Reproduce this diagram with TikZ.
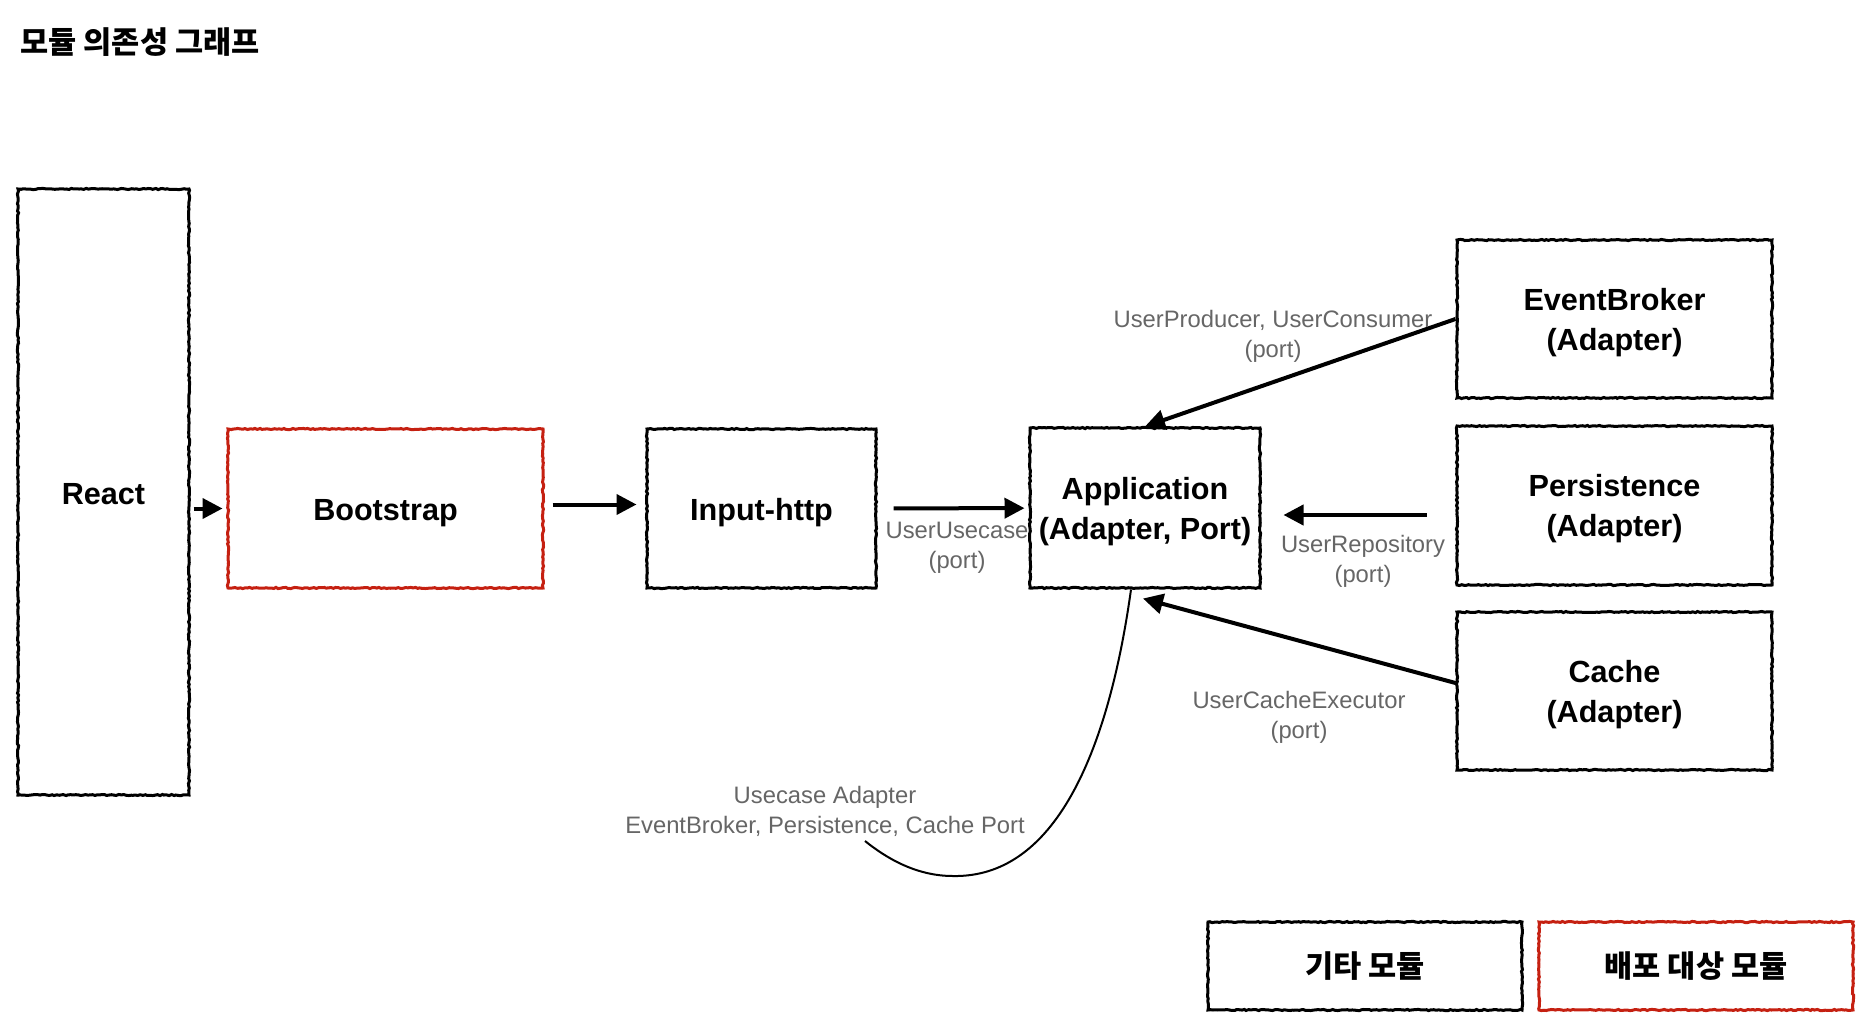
\documentclass[tikz,border=0pt]{standalone}
\usepackage{fontspec}
\setmainfont{Liberation Sans}
\newfontfamily\kofont{Noto Sans CJK KR}
\usetikzlibrary{calc,arrows.meta,decorations.pathmorphing}
\definecolor{deployred}{RGB}{197,32,17}
\definecolor{portgray}{RGB}{102,102,102}
\newcommand{\boxfont}{\fontsize{15.3}{20}\selectfont\bfseries}
\newcommand{\portfont}{\fontsize{11.9}{15}\selectfont}
\newcommand{\legendfont}{\kofont\bfseries\fontsize{15.3}{17}\selectfont}

\begin{document}
\pgfmathsetseed{11}
\begin{tikzpicture}[x=0.5pt,y=-0.5pt,
  module/.style={draw=black,line width=1.5pt,inner sep=0pt,align=center,font=\boxfont,
    decorate,decoration={random steps,segment length=1.2pt,amplitude=0.3pt}},
  deploy/.style={module,draw=deployred},
  oneline/.style={text height=12pt,text depth=0pt},
  twoline/.style={text height=31pt,text depth=0pt},
  dep/.style={line width=2pt,-{Triangle[length=10pt,width=10pt]}},
  port/.style={align=center,font=\portfont,text=portgray,inner sep=0pt}]
  \useasboundingbox (0,0) rectangle (1875,1023);
  \node[anchor=west,inner sep=0pt,font=\legendfont] (title) at (20,42) {모듈 의존성 그래프};

  % modules
  \node[module,oneline,minimum width=85.5pt,minimum height=303pt] (react) at (103.5,492) {React};
  \node[deploy,oneline,minimum width=157.5pt,minimum height=79.5pt] (boot) at (385.5,508.5) {Bootstrap};
  \node[module,oneline,minimum width=114.5pt,minimum height=79.5pt] (input) at (761.5,508.5) {Input-http};
  \node[module,twoline,minimum width=115pt,minimum height=80pt] (app) at (1145,508) {Application\\(Adapter, Port)};
  \node[module,twoline,minimum width=157.5pt,minimum height=79pt] (eb) at (1614.5,319) {EventBroker\\(Adapter)};
  \node[module,twoline,minimum width=157.5pt,minimum height=79.5pt] (pers) at (1614.5,505.5) {Persistence\\(Adapter)};
  \node[module,twoline,minimum width=157.5pt,minimum height=79pt] (cache) at (1614.5,691) {Cache\\(Adapter)};

  % dependencies
  \draw[dep,shorten <=1.5pt,shorten >=2pt] (react.east |- boot.west) -- (boot.west);
  \draw[dep,shorten <=4pt,shorten >=4.5pt] ($(boot.east)+(0,-4)$) -- ($(input.west)+(0,-4)$);
  \draw[dep,shorten <=8pt,shorten >=2pt] (input) -- (app);
  \draw[dep] (eb.west) -- (app.north);
  \draw[dep,shorten <=14.5pt,shorten >=11pt] ($(pers.west)+(0,9.5)$) -- ($(app.east)+(0,7)$);
  \draw[dep] ($(cache.west)+(0,-8)$) -- ($(app.south)+(-2,9)$);
  \coordinate (curveend) at (865,841);
  \draw[line width=1pt] ($(app.south)+(-14,0)$) .. controls (1110,740) and (1060,878) .. (953,876)
    .. controls (915,876) and (885,857) .. (curveend);

  % port labels
  \node[port] (usecaselbl) at (957,548) {UserUsecase\\(port)};
  \node[port] (producerlbl) at (1273,336) {UserProducer, UserConsumer\\(port)};
  \node[port] (repolbl) at (1363,561) {UserRepository\\(port)};
  \node[port] (cacheexeclbl) at (1299,717) {UserCacheExecutor\\(port)};
  \node[port] (adapterlbl) at (825,811) {Usecase Adapter\\EventBroker, Persistence, Cache Port};

  % legend
  \node[module,minimum width=157pt,minimum height=44pt,font=\legendfont] (otherlgd) at (1365,966) {기타 모듈};
  \node[deploy,minimum width=157pt,minimum height=44pt,font=\legendfont] (deploylgd) at (1696,966) {배포 대상 모듈};
\end{tikzpicture}
\end{document}
